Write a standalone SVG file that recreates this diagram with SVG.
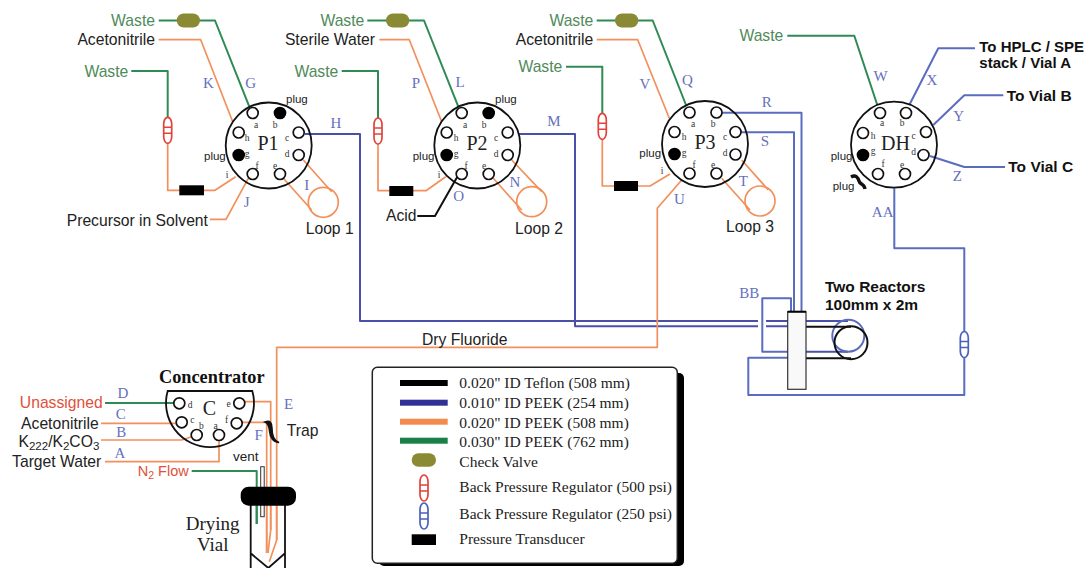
<svg xmlns="http://www.w3.org/2000/svg" width="1091" height="568" viewBox="0 0 1091 568">
<style>
text{font-family:"Liberation Sans",Arial,sans-serif;font-size:15.700px;fill:#222}
.r{text-anchor:end}
.w{fill:#4f8a5a}
.red{fill:#e0503a}
.b{font-weight:bold;font-size:15.500px;fill:#111}
.s{font-size:11.500px}
.se{font-family:"Liberation Serif","Times New Roman",serif}
.lab{font-family:"Liberation Serif","Times New Roman",serif;font-size:15px;fill:#6670bd;text-anchor:middle}
.pl{font-family:"Liberation Serif","Times New Roman",serif;font-size:9.500px;fill:#333;text-anchor:middle}
.vn{font-family:"Liberation Serif","Times New Roman",serif;font-size:20px;fill:#222;text-anchor:middle}
.lg{font-family:"Liberation Serif","Times New Roman",serif;font-size:15.500px;fill:#222}
.l{fill:none;stroke-width:2;stroke-linejoin:round}
.o{stroke:#f2905c;stroke-width:1.700}
.g{stroke:#2f8a55}
.n{stroke:#4a50a8}
.u{stroke:#5a6cbe}
.k{stroke:#111}
.body{fill:none;stroke:#111;stroke-width:1.800}
.port{fill:#fff;stroke:#111;stroke-width:1.700}
.plugd{fill:#000;stroke:#000}
.cv{fill:#8a8a35}
.pt{fill:#000}
</style>
<defs>
<g id="bprR"><rect x="-4" y="-13" width="8" height="26" rx="4" ry="6.500" fill="#fff" stroke="#e0443a" stroke-width="1.700"/><path d="M-4-3H4M-4 3H4" stroke="#e0443a" stroke-width="1.500"/></g>
<g id="bprB"><rect x="-4" y="-13" width="8" height="26" rx="4" ry="6.500" fill="#fff" stroke="#4a62b8" stroke-width="1.700"/><path d="M-4-3H4M-4 3H4" stroke="#4a62b8" stroke-width="1.500"/></g>
</defs>
<rect width="1091" height="568" fill="#fff"/>

<g id="connectors">
<path class="l g" d="M158.700 20.500H215L249.300 106.700"/>
<path class="l o" d="M158.700 39.700H200.700L232.700 121.700"/>
<path class="l g" d="M131.300 71H167.700V118"/>
<path class="l o" d="M167.700 143V190.300H215L235.700 176.700"/>
<path class="l o" d="M210 219.300H226L248.300 178.300"/>
<path class="l n" d="M305 134H360V321H758M766 321H788"/>
<path class="l o" d="M303.300 160L331.700 191.700M283.300 178.300L311.700 210"/>
<circle class="l o" cx="323.300" cy="202.300" r="15"/>

<path class="l g" d="M367.300 20.500H424L458.300 106.700"/>
<path class="l o" d="M379.300 39.700H409.300L441.700 121.700"/>
<path class="l g" d="M341.700 71H378V118"/>
<path class="l o" d="M378 144V190.700H426L445.700 176.700"/>
<path class="l k" d="M417.300 216H435L458.300 175"/>
<path class="l n" d="M518.300 134H575V326.300H758M766 326.300H788"/>
<path class="l o" d="M511.700 160L541.700 191.700M493.300 178.300L521.700 210"/>
<circle class="l o" cx="531.700" cy="201.700" r="15"/>

<path class="l g" d="M596.700 20.500H652.700L686 105"/>
<path class="l o" d="M596.700 39.700H637.700L669.300 118.300"/>
<path class="l g" d="M566 66.700H602.300V114"/>
<path class="l o" d="M602.300 139V186H650L670 174"/>
<path class="l o" d="M681.700 180L657.300 208.300V347.300H276.700V540L269.300 561.700"/>
<path class="l u" d="M721.700 112.700H801.500V312M740.700 132.300H794V312"/>
<path class="l o" d="M741.700 160L768.300 190M721.700 178.300L750 210"/>
<circle class="l o" cx="760" cy="201" r="15"/>

<path class="l g" d="M787.300 35.700H854.300L877.300 105"/>
<path class="l u" d="M975 48.300H938.300L909.300 105"/>
<path class="l u" d="M1003.300 95.300H964.300L933.300 125"/>
<path class="l u" d="M1005 167H964.300L930 156"/>
<path class="l u" d="M894.300 188.300V248.300H964.300V332M964.300 357V395H748.300V357.700H788"/>
<path class="l u" d="M791 312V298.300H762.300V351.700H788"/>

<path class="l g" d="M105 403H173.300"/>
<path class="l o" d="M101 423.300H176.700"/>
<path class="l o" d="M101 440H181.700L191.700 436.700"/>
<path class="l o" d="M105 461.700H219V440"/>
<path class="l o" d="M245 401.700H270.700V530L268 553"/>
<path class="l o" d="M241.700 422.300H266.700V553"/>
<path class="l g" d="M191.700 471H256.700V524"/>
</g>

<g id="P1">
<circle class="body" cx="268.700" cy="145.500" r="43"/>
<circle class="port" cx="252.700" cy="113" r="5.500"/><circle class="port plugd" cx="280" cy="113" r="5.500"/><circle class="port" cx="298.700" cy="132.500" r="5.500"/><circle class="port" cx="298.700" cy="155" r="5.500"/><circle class="port" cx="280" cy="174" r="5.500"/><circle class="port" cx="252.700" cy="174" r="5.500"/><circle class="port plugd" cx="238.700" cy="155" r="5.500"/><circle class="port" cx="238.700" cy="132.500" r="5.500"/>
<text class="pl" x="256" y="128">a</text><text class="pl" x="275" y="128">b</text><text class="pl" x="287" y="141">c</text><text class="pl" x="287" y="157">d</text><text class="pl" x="275" y="169">e</text><text class="pl" x="257" y="169">f</text><text class="pl" x="247" y="157">g</text><text class="pl" x="247" y="141">h</text><text class="pl" x="227" y="178">i</text>
<text class="vn" x="268" y="149.500">P1</text>
</g>
<g id="P2">
<circle class="body" cx="477.300" cy="145.500" r="43"/>
<circle class="port" cx="461.700" cy="113" r="5.500"/><circle class="port plugd" cx="488.700" cy="113" r="5.500"/><circle class="port" cx="507.700" cy="132.500" r="5.500"/><circle class="port" cx="507.700" cy="155" r="5.500"/><circle class="port" cx="488.700" cy="174" r="5.500"/><circle class="port" cx="461.700" cy="174" r="5.500"/><circle class="port plugd" cx="446.700" cy="155" r="5.500"/><circle class="port" cx="446.700" cy="132.500" r="5.500"/>
<text class="pl" x="465" y="128">a</text><text class="pl" x="484" y="128">b</text><text class="pl" x="496" y="141">c</text><text class="pl" x="496" y="157">d</text><text class="pl" x="484" y="169">e</text><text class="pl" x="466" y="169">f</text><text class="pl" x="456" y="157">g</text><text class="pl" x="456" y="141">h</text><text class="pl" x="439" y="178">i</text>
<text class="vn" x="477" y="149.500">P2</text>
</g>
<g id="P3">
<circle class="body" cx="705" cy="144" r="43"/>
<circle class="port" cx="689.500" cy="112.500" r="5.500"/><circle class="port" cx="716.500" cy="112.500" r="5.500"/><circle class="port" cx="735.500" cy="132" r="5.500"/><circle class="port" cx="735.500" cy="154.500" r="5.500"/><circle class="port" cx="716.500" cy="173.500" r="5.500"/><circle class="port" cx="689.500" cy="173.500" r="5.500"/><circle class="port plugd" cx="674.500" cy="154" r="5.500"/><circle class="port" cx="674.500" cy="132" r="5.500"/>
<text class="pl" x="693" y="127">a</text><text class="pl" x="713" y="127">b</text><text class="pl" x="725" y="140">c</text><text class="pl" x="725" y="156">d</text><text class="pl" x="713" y="168">e</text><text class="pl" x="694" y="168">f</text><text class="pl" x="684" y="156">g</text><text class="pl" x="684" y="140">h</text><text class="pl" x="662" y="174">i</text>
<text class="vn" x="705" y="148.500">P3</text>
</g>
<g id="DH">
<circle class="body" cx="894" cy="144.700" r="43"/>
<circle class="port" cx="880" cy="113" r="5.500"/><circle class="port" cx="906" cy="113" r="5.500"/><circle class="port" cx="926" cy="132" r="5.500"/><circle class="port" cx="923.500" cy="155" r="5.500"/><circle class="port" cx="905" cy="174" r="5.500"/><circle class="port" cx="878" cy="174" r="5.500"/><circle class="port plugd" cx="863" cy="155" r="5.500"/><circle class="port" cx="863" cy="133" r="5.500"/>
<text class="pl" x="882" y="126">a</text><text class="pl" x="902" y="126">b</text><text class="pl" x="913.500" y="139">c</text><text class="pl" x="913.500" y="155">d</text><text class="pl" x="902" y="168">e</text><text class="pl" x="883" y="167">f</text><text class="pl" x="873" y="154">g</text><text class="pl" x="873" y="139">h</text>
<text class="vn" x="895.500" y="150">DH</text>
<path d="M851 177C856 174 858 178 859 181C860 185 864 183 865 189" fill="none" stroke="#111" stroke-width="3.400"/>
</g>
<g id="C">
<path class="body" d="M252.300 391A44 44 0 1 1 167.700 391Z"/>
<circle class="port" cx="179.300" cy="403.300" r="5.500"/><circle class="port" cx="239.300" cy="403.300" r="5.500"/><circle class="port" cx="181.700" cy="422.300" r="5.500"/><circle class="port" cx="236.700" cy="423.300" r="5.500"/><circle class="port" cx="196.700" cy="435" r="5.500"/><circle class="port" cx="219" cy="435" r="5.500"/>
<text class="pl" x="190" y="408">d</text><text class="pl" x="228.700" y="407">e</text><text class="pl" x="192.300" y="423">c</text><text class="pl" x="226.700" y="423">f</text><text class="pl" x="201.300" y="428.500">b</text><text class="pl" x="215.700" y="428.500">a</text>
<text class="vn" x="209.300" y="415">C</text>
<text class="se" x="159" y="383.300" style="font-weight:bold;font-size:18.300px;fill:#111">Concentrator</text>
</g>
<g id="trap"><path d="M265 422C270 420 272 423 272 428C272 436 274 441 279 442.500C274 443 270 438 269.500 431C269 426 268 423 265 422Z" fill="#111" stroke="#111" stroke-width="1.500"/><text x="286.700" y="436">Trap</text></g>
<g id="vial">
<path d="M250.700 505V568M285 505V568M250.700 553.300L268.300 568L285 553.300" fill="none" stroke="#111" stroke-width="1.800"/>
<rect x="260.700" y="466.700" width="3.500" height="50" fill="#fff" stroke="#333" stroke-width="1"/>
<rect x="240.700" y="486.700" width="55.300" height="19" rx="8" fill="#000"/>
<path class="l g" d="M256.700 506V524"/>
<path class="l o" d="M266.700 506V553M270.700 506V530M276.700 506V540"/>
<text x="233" y="461.300" style="font-size:13.500px">vent</text>
<text class="se" x="212.700" y="530" text-anchor="middle" style="font-size:19px">Drying</text>
<text class="se" x="212.700" y="550.700" text-anchor="middle" style="font-size:19px">Vial</text>
</g>
<g id="reactors">
<path class="l n" d="M806 321H848M806 351.700H848"/>
<circle class="l u" cx="848.300" cy="335.700" r="16"/>
<path class="l k" d="M806 326.700H851M806 358.300H851"/>
<circle class="l k" cx="851" cy="342.700" r="16.500"/>
<rect x="787.700" y="311.700" width="18.300" height="77.600" fill="#f9f9f9" stroke="#333" stroke-width="1.200"/>
<path d="M787.700 311.700H806" stroke="#000" stroke-width="2"/>
<text class="b" x="825" y="292.300">Two Reactors</text>
<text class="b" x="825" y="310">100mm x 2m</text>
</g>

<g id="devices">
<rect class="cv" x="176.700" y="13.500" width="23.300" height="14" rx="7"/>
<rect class="cv" x="386" y="13.500" width="23.300" height="14" rx="7"/>
<rect class="cv" x="615" y="13.500" width="23.300" height="14" rx="7"/>
<use href="#bprR" x="167.700" y="130.300"/>
<use href="#bprR" x="378" y="131"/>
<use href="#bprR" x="602.300" y="126.300"/>
<use href="#bprB" x="964.300" y="344.500"/>
<rect class="pt" x="179.300" y="185.300" width="24.700" height="10"/>
<rect class="pt" x="389.300" y="186" width="24" height="10"/>
<rect class="pt" x="614" y="181" width="24" height="10"/>
</g>

<g id="labels">
<text class="r w" x="155" y="26">Waste</text>
<text class="r" x="155" y="45.300">Acetonitrile</text>
<text class="r w" x="128.300" y="76.700">Waste</text>
<text x="66.700" y="225.700">Precursor in Solvent</text>
<text x="305.700" y="234.300">Loop 1</text>
<text class="s" x="286" y="103.300">plug</text><text class="s" x="204" y="160">plug</text>
<text class="r w" x="364.300" y="26">Waste</text>
<text class="r" x="375" y="45.300">Sterile Water</text>
<text class="r w" x="338.300" y="76.700">Waste</text>
<text x="386" y="221.300">Acid</text>
<text x="515" y="234">Loop 2</text>
<text class="s" x="495" y="103.300">plug</text><text class="s" x="412.700" y="160">plug</text>
<text class="r w" x="593.300" y="26">Waste</text>
<text class="r" x="593.300" y="45.300">Acetonitrile</text>
<text class="r w" x="562.300" y="72.300">Waste</text>
<text x="726" y="232.300">Loop 3</text>
<text class="s" x="639.300" y="157">plug</text>
<text class="r w" x="783.300" y="40.700">Waste</text>
<text class="b" x="979.300" y="52" style="font-size:15px">To HPLC / SPE</text>
<text class="b" x="979.300" y="68" style="font-size:15px">stack / Vial A</text>
<text class="b" x="1006.700" y="100.700">To Vial B</text>
<text class="b" x="1008.300" y="172">To Vial C</text>
<text class="s" x="830.700" y="160">plug</text><text class="s" x="832.700" y="190">plug</text>
<text x="422" y="345">Dry Fluoride</text>
<text class="r red" x="102.700" y="408.300">Unassigned</text>
<text class="r" x="98.700" y="429">Acetonitrile</text>
<text class="r" x="99.300" y="446.700">K<tspan dy="3" font-size="11.500">222</tspan><tspan dy="-3">/K</tspan><tspan dy="3" font-size="11.500">2</tspan><tspan dy="-3">CO</tspan><tspan dy="3" font-size="11.500">3</tspan></text>
<text class="r" x="101.300" y="467">Target Water</text>
<text class="r red" x="188.700" y="476" style="font-size:14.500px">N<tspan dy="3" font-size="10.500">2</tspan><tspan dy="-3"> Flow</tspan></text>
</g>
<g id="letters">
<text class="lab" x="250.700" y="87.500">G</text><text class="lab" x="208.300" y="88">K</text><text class="lab" x="336" y="127.500">H</text><text class="lab" x="306.700" y="190">I</text><text class="lab" x="246.700" y="207">J</text>
<text class="lab" x="460" y="86.500">L</text><text class="lab" x="416" y="88">P</text><text class="lab" x="554" y="126">M</text><text class="lab" x="515" y="187">N</text><text class="lab" x="458.700" y="200.500">O</text>
<text class="lab" x="687.300" y="85">Q</text><text class="lab" x="645" y="89">V</text><text class="lab" x="766.700" y="106.500">R</text><text class="lab" x="765" y="145.500">S</text><text class="lab" x="743.300" y="186">T</text><text class="lab" x="679.300" y="204">U</text>
<text class="lab" x="880.700" y="81">W</text><text class="lab" x="932" y="85">X</text><text class="lab" x="958.700" y="120.500">Y</text><text class="lab" x="957.300" y="180.500">Z</text><text class="lab" x="882.700" y="217">AA</text><text class="lab" x="749.300" y="298">BB</text>
<text class="lab" x="123" y="397.500">D</text><text class="lab" x="120.700" y="419">C</text><text class="lab" x="121.300" y="437">B</text><text class="lab" x="120" y="458">A</text><text class="lab" x="288.700" y="409">E</text><text class="lab" x="258.700" y="439.500">F</text>
</g>

<g id="legend">
<rect x="379" y="373" width="305" height="193" rx="5" fill="#000"/>
<rect x="372.300" y="367.300" width="305" height="196" rx="5" fill="#fff" stroke="#222" stroke-width="1.500"/>
<rect x="400" y="380" width="47.700" height="6" fill="#000"/>
<rect x="400" y="399.700" width="47.700" height="6" fill="#2f3294"/>
<rect x="400" y="418.700" width="47.700" height="6" fill="#f58a4f"/>
<rect x="400" y="437.700" width="47.700" height="6" fill="#1a8048"/>
<rect class="cv" x="411.700" y="453.300" width="24.300" height="13.400" rx="6.700"/>
<use href="#bprR" x="424" y="488"/>
<use href="#bprB" x="424" y="516"/>
<rect class="pt" x="411.700" y="534.300" width="24.300" height="10.700"/>
<text class="lg" x="459.300" y="388.300">0.020" ID Teflon (508 mm)</text>
<text class="lg" x="459.300" y="408.300">0.010" ID PEEK (254 mm)</text>
<text class="lg" x="459.300" y="427.700">0.020" ID PEEK (508 mm)</text>
<text class="lg" x="459.300" y="446.700">0.030" ID PEEK (762 mm)</text>
<text class="lg" x="459.300" y="466.700">Check Valve</text>
<text class="lg" x="459.300" y="492.300">Back Pressure Regulator (500 psi)</text>
<text class="lg" x="459.300" y="519">Back Pressure Regulator (250 psi)</text>
<text class="lg" x="459.300" y="544.300">Pressure Transducer</text>
</g>
</svg>
